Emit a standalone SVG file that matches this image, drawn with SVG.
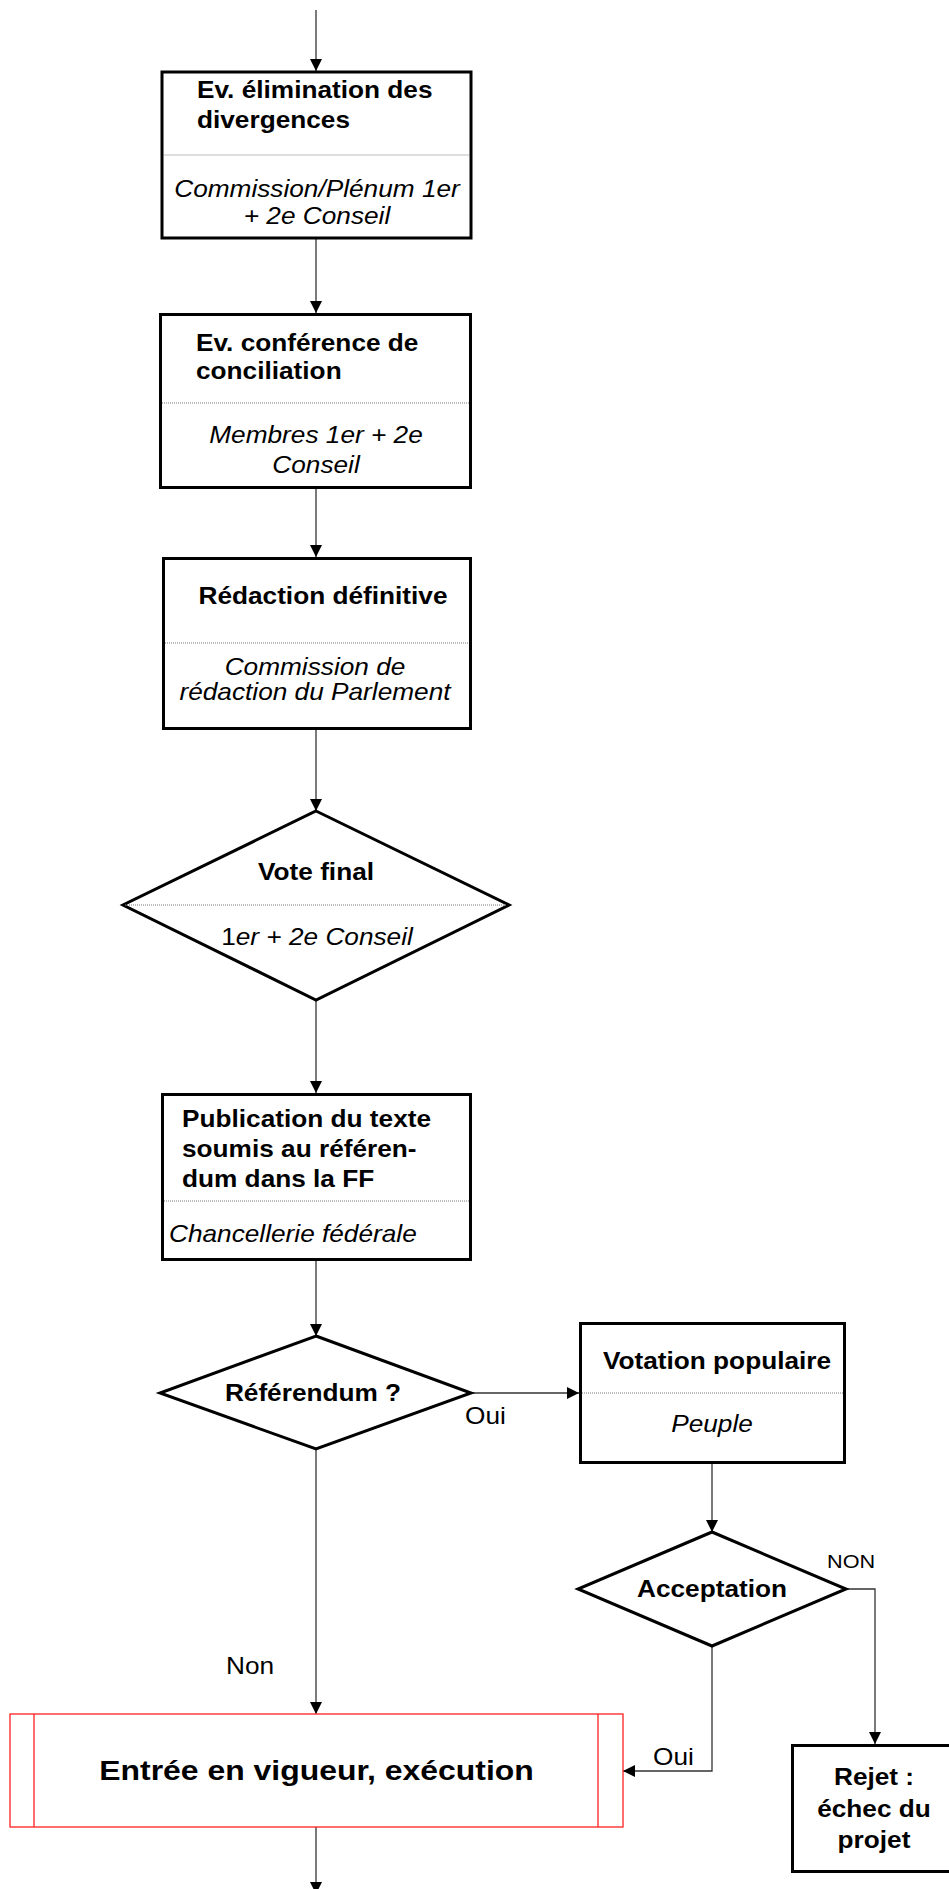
<svg xmlns="http://www.w3.org/2000/svg" width="949" height="1889" viewBox="0 0 949 1889">
  <defs>
    <style>
      .box { fill: #ffffff; stroke: #000000; stroke-width: 3; }
      .div { fill: none; stroke: #7a7a7a; stroke-width: 1; stroke-dasharray: 1 1; }
      .red { fill: #ffffff; stroke: #ff2020; stroke-width: 1.3; }
      .con { fill: none; stroke: #333333; stroke-width: 1.3; }
      text { font-family: "Liberation Sans", Arial, Helvetica, sans-serif; fill: #000000; }
      .b { font-weight: bold; font-size: 23px; }
      .i { font-style: italic; font-size: 23px; }
      .lab { font-size: 23px; }
      .small { font-size: 19px; }
      .big { font-weight: bold; font-size: 28px; }
      .mid { text-anchor: middle; }
    </style>
    <marker id="arrow" viewBox="0 0 12 12" refX="12" refY="6" markerWidth="12" markerHeight="12" markerUnits="userSpaceOnUse" orient="auto">
      <path d="M0,0 L12,6 L0,12 z" fill="#000000"/>
    </marker>
  </defs>

  <!-- connectors -->
  <g id="connectors">
    <line class="con" x1="316" y1="10" x2="316" y2="71" marker-end="url(#arrow)"/>
    <line class="con" x1="316" y1="239" x2="316" y2="313" marker-end="url(#arrow)"/>
    <line class="con" x1="316" y1="489" x2="316" y2="557" marker-end="url(#arrow)"/>
    <line class="con" x1="316" y1="730" x2="316" y2="811" marker-end="url(#arrow)"/>
    <line class="con" x1="316" y1="1000" x2="316" y2="1093" marker-end="url(#arrow)"/>
    <line class="con" x1="316" y1="1261" x2="316" y2="1336" marker-end="url(#arrow)"/>
    <line class="con" x1="471" y1="1393" x2="579" y2="1393" marker-end="url(#arrow)"/>
    <line class="con" x1="316" y1="1449" x2="316" y2="1714" marker-end="url(#arrow)"/>
    <line class="con" x1="712" y1="1464" x2="712" y2="1532" marker-end="url(#arrow)"/>
    <polyline class="con" points="846,1589 875,1589 875,1744" marker-end="url(#arrow)"/>
    <polyline class="con" points="712,1646 712,1771 623,1771" marker-end="url(#arrow)"/>
    <line class="con" x1="316" y1="1827" x2="316" y2="1894" marker-end="url(#arrow)"/>
    <text class="lab" transform="matrix(1.14 0 0 1 465 0)" x="0" y="1424">Oui</text>
    <text class="lab" transform="matrix(1.14 0 0 1 226 0)" x="0" y="1674">Non</text>
    <text class="small" transform="matrix(1.14 0 0 1 827 0)" x="0" y="1568">NON</text>
    <text class="lab" transform="matrix(1.14 0 0 1 653 0)" x="0" y="1765">Oui</text>
  </g>

  <!-- Ev. élimination des divergences -->
  <g id="elimination">
    <rect class="box" x="162" y="72" width="309" height="166"/>
    <line class="div" x1="163.5" y1="155" x2="469.5" y2="155"/>
    <text class="b" transform="matrix(1.14 0 0 1 197 0)"><tspan x="0" y="98">Ev. élimination des</tspan><tspan x="0" y="128">divergences</tspan></text>
    <text class="i mid" transform="matrix(1.14 0 0 1 317 0)"><tspan x="0" y="197">Commission/Plénum 1er</tspan><tspan x="0" y="224">+ 2e Conseil</tspan></text>
  </g>

  <!-- Ev. conférence de conciliation -->
  <g id="conciliation">
    <rect class="box" x="160.5" y="314.5" width="310" height="173"/>
    <line class="div" x1="162" y1="403" x2="469" y2="403"/>
    <text class="b" transform="matrix(1.14 0 0 1 196 0)"><tspan x="0" y="351">Ev. conférence de</tspan><tspan x="0" y="379">conciliation</tspan></text>
    <text class="i mid" transform="matrix(1.14 0 0 1 316 0)"><tspan x="0" y="443">Membres 1er + 2e</tspan><tspan x="0" y="473">Conseil</tspan></text>
  </g>

  <!-- Rédaction définitive -->
  <g id="redaction">
    <rect class="box" x="163.5" y="558.5" width="307" height="170"/>
    <line class="div" x1="165" y1="643" x2="469" y2="643"/>
    <text class="b mid" transform="matrix(1.14 0 0 1 323 0)" x="0" y="604">Rédaction définitive</text>
    <text class="i mid" transform="matrix(1.14 0 0 1 315 0)"><tspan x="0" y="675">Commission de</tspan><tspan x="0" y="700">rédaction du Parlement</tspan></text>
  </g>

  <!-- Vote final -->
  <g id="vote-final">
    <polygon class="box" points="316,811 509,905 316,1000 123,905"/>
    <line class="div" x1="125" y1="905" x2="507" y2="905"/>
    <text class="b mid" transform="matrix(1.14 0 0 1 316 0)" x="0" y="880">Vote final</text>
    <text class="i mid" transform="matrix(1.14 0 0 1 317 0)" x="0" y="945"><tspan font-style="normal">1</tspan>er + 2e Conseil</text>
  </g>

  <!-- Publication du texte -->
  <g id="publication">
    <rect class="box" x="162.5" y="1094.5" width="308" height="165"/>
    <line class="div" x1="164" y1="1201" x2="469" y2="1201"/>
    <text class="b" transform="matrix(1.14 0 0 1 182 0)"><tspan x="0" y="1127">Publication du texte</tspan><tspan x="0" y="1157">soumis au référen-</tspan><tspan x="0" y="1187">dum dans la FF</tspan></text>
    <text class="i" transform="matrix(1.14 0 0 1 169 0)" x="0" y="1242">Chancellerie fédérale</text>
  </g>

  <!-- Référendum ? -->
  <g id="referendum">
    <polygon class="box" points="316,1336 471,1393 316,1449 160,1393"/>
    <text class="b mid" transform="matrix(1.14 0 0 1 313 0)" x="0" y="1401">Référendum ?</text>
  </g>

  <!-- Votation populaire -->
  <g id="votation">
    <rect class="box" x="580.5" y="1323.5" width="264" height="139"/>
    <line class="div" x1="582" y1="1393" x2="843" y2="1393"/>
    <text class="b mid" transform="matrix(1.14 0 0 1 717 0)" x="0" y="1369">Votation populaire</text>
    <text class="i mid" transform="matrix(1.14 0 0 1 712 0)" x="0" y="1432">Peuple</text>
  </g>

  <!-- Acceptation -->
  <g id="acceptation">
    <polygon class="box" points="712,1532 846,1589 712,1646 578,1589"/>
    <text class="b mid" transform="matrix(1.14 0 0 1 712 0)" x="0" y="1597">Acceptation</text>
  </g>

  <!-- Entrée en vigueur, exécution -->
  <g id="entree">
    <rect class="red" x="10" y="1714" width="613" height="113"/>
    <line class="red" x1="34" y1="1714" x2="34" y2="1827"/>
    <line class="red" x1="598" y1="1714" x2="598" y2="1827"/>
    <text class="big mid" transform="matrix(1.14 0 0 1 316.5 0)" x="0" y="1780">Entrée en vigueur, exécution</text>
  </g>

  <!-- Rejet -->
  <g id="rejet">
    <rect class="box" x="792.5" y="1745.5" width="170" height="126"/>
    <text class="b mid" transform="matrix(1.14 0 0 1 874 0)"><tspan x="0" y="1785">Rejet :</tspan><tspan x="0" y="1817">échec du</tspan><tspan x="0" y="1848">projet</tspan></text>
  </g>
</svg>
